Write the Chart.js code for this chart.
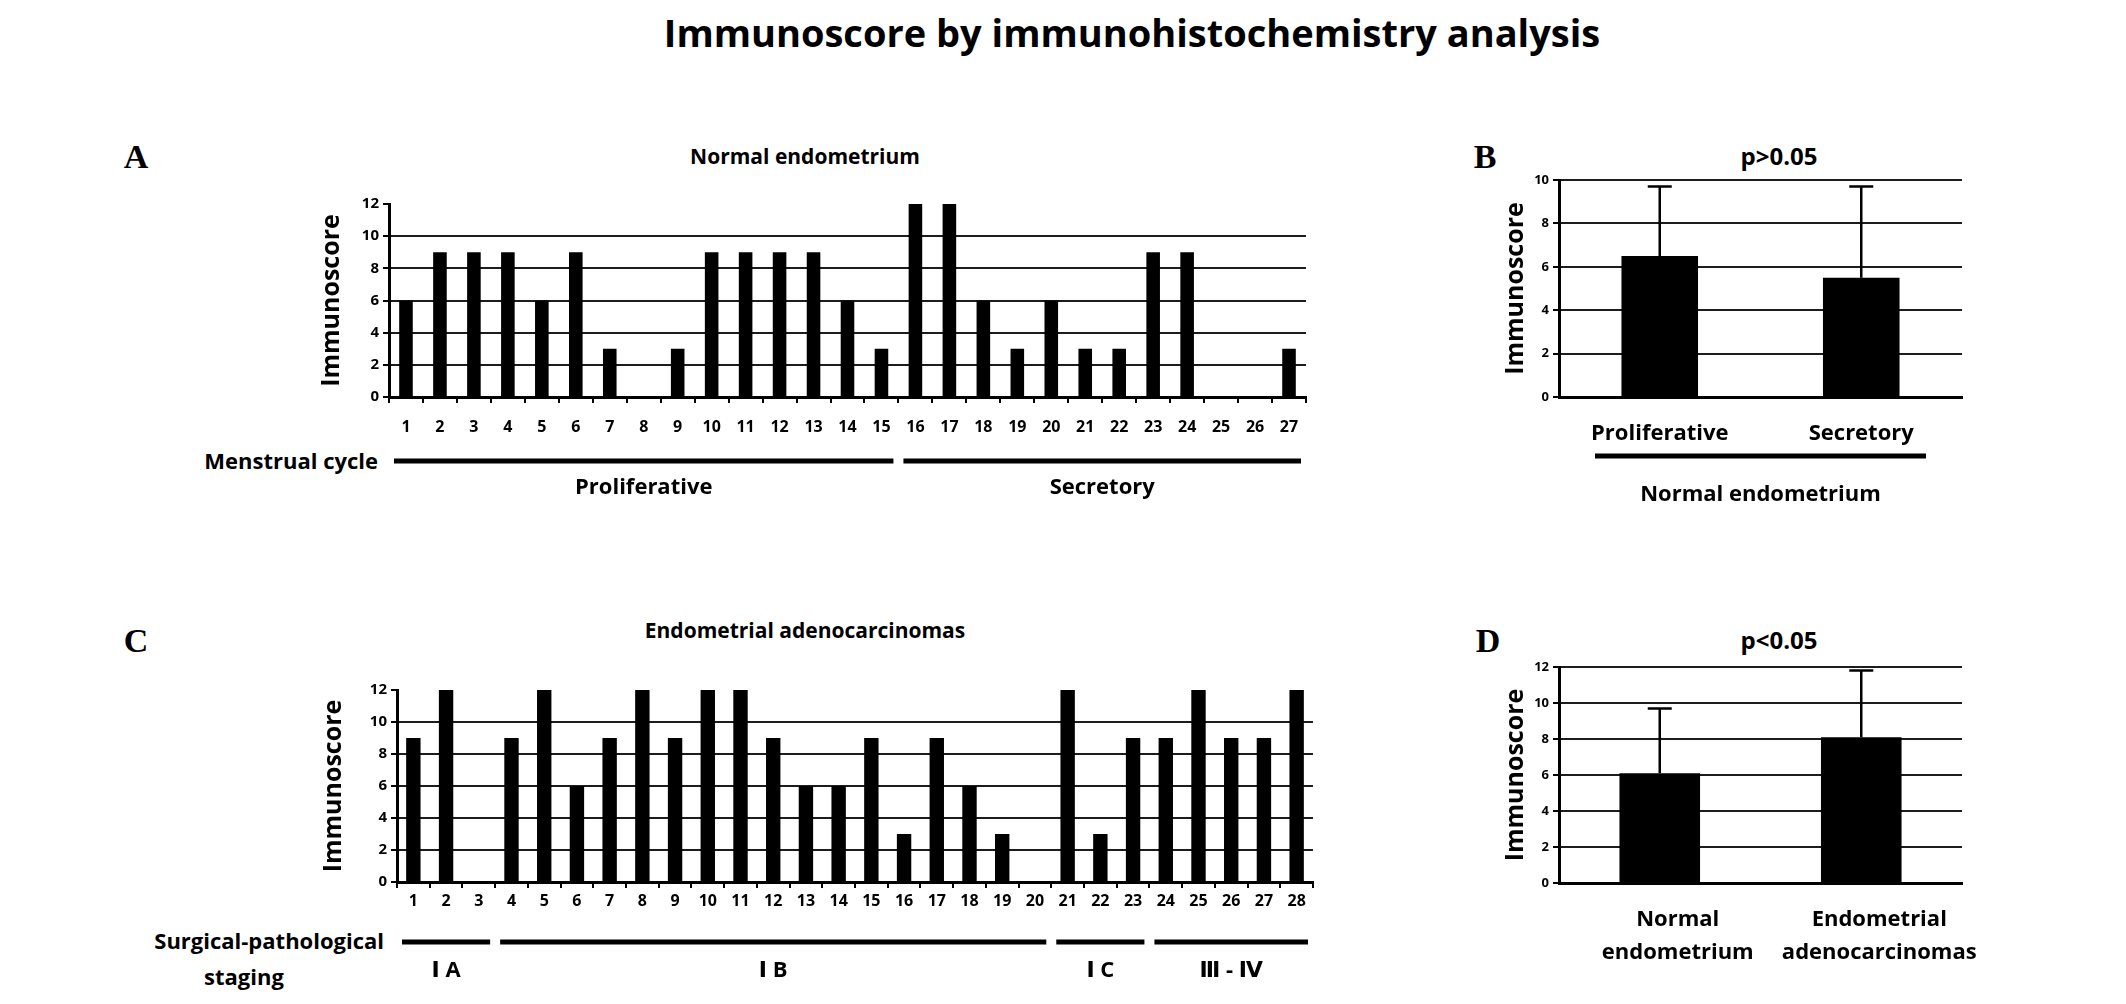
<!DOCTYPE html>
<html><head><meta charset="utf-8">
<script src="https://cdn.jsdelivr.net/npm/chart.js@4.4.1/dist/chart.umd.min.js"></script>
<style>
html,body{margin:0;padding:0;background:#fff;}
#root{position:relative;width:2126px;height:1004px;overflow:hidden;background:#fff;font-family:'Open Sans','Noto Sans',sans-serif;color:#000}
canvas{position:absolute}
.t{position:absolute;white-space:nowrap;font-weight:700;transform:translate(-50%,-50%);line-height:1}
.r{position:absolute;white-space:nowrap;font-weight:700;transform:translate(-100%,-50%);line-height:1}
.L{position:absolute;font-family:'Liberation Serif','DejaVu Serif',serif;font-weight:700;font-size:34px;transform:translate(-50%,-50%);line-height:1}
</style></head>
<body><div id="root">
<div class="t" style="left:1132px;top:32px;font-size:38px">Immunoscore by immunohistochemistry analysis</div>
<div class="L" style="left:136px;top:157px">A</div>
<div class="L" style="left:1485px;top:157px">B</div>
<div class="L" style="left:136px;top:641px">C</div>
<div class="L" style="left:1488px;top:641px">D</div>
<div class="t" style="left:805px;top:156px;font-size:21px">Normal endometrium</div>
<div class="t" style="left:805px;top:630px;font-size:21px">Endometrial adenocarcinomas</div>
<div class="r" style="left:378px;top:460px;font-size:22px">Menstrual cycle</div>
<div class="r" style="left:384px;top:940px;font-size:22px">Surgical-pathological</div>
<div class="t" style="left:244px;top:976px;font-size:22px">staging</div>
<div class="t" style="left:1779px;top:156px;font-size:24px">p&gt;0.05</div>
<div class="t" style="left:1779px;top:640px;font-size:24px">p&lt;0.05</div>
<canvas id="cA" width="1030" height="330" style="left:300px;top:180px;width:1030px;height:330px"></canvas>
<canvas id="cC" width="1040" height="340" style="left:300px;top:660px;width:1040px;height:340px"></canvas>
<canvas id="cB" width="540" height="370" style="left:1460px;top:150px;width:540px;height:370px"></canvas>
<canvas id="cD" width="540" height="364" style="left:1460px;top:640px;width:540px;height:364px"></canvas>
</div>
<script>
// ---- data ----
const aCategories = ['1','2','3','4','5','6','7','8','9','10','11','12','13','14','15','16','17','18','19','20','21','22','23','24','25','26','27'];
const aScores = [6,9,9,9,6,9,3,0,3,9,9,9,9,6,3,12,12,6,3,6,3,3,9,9,0,0,3];
const aGroupNames = ['Proliferative','Secretory'];
const aGroupStarts = [1,16];
const aGroupEnds = [15,27];

const cCategories = ['1','2','3','4','5','6','7','8','9','10','11','12','13','14','15','16','17','18','19','20','21','22','23','24','25','26','27','28'];
const cScores = [9,12,0,9,12,6,9,12,9,12,12,9,6,6,9,3,9,6,3,0,12,3,9,9,12,9,9,12];
const cGroupNames = ['\u2160 A','\u2160 B','\u2160 C','\u2162 - \u2163'];
const cGroupStarts = [1,4,21,24];
const cGroupEnds = [3,20,23,28];

const bCategories = ['Proliferative','Secretory'];
const bMeans = [6.5,5.5];
const bErrors = [3.2,4.2];
const bGroupNames = ['Normal endometrium'];
const bGroupStarts = [1];
const bGroupEnds = [2];

const dCategories = [['Normal','endometrium'],['Endometrial','adenocarcinomas']];
const dMeans = [6.1,8.1];
const dErrors = [3.6,3.7];

const aYMax = 12, cYMax = 12, bYMax = 10, dYMax = 12, yStep = 2;

const FONT = "'Open Sans','Noto Sans','DejaVu Sans','Noto Sans CJK KR',sans-serif";

const errPlugin = {
  id: 'errbars',
  afterDatasetsDraw(chart, args, opts) {
    if (!opts || !opts.errors) return;
    const ctx = chart.ctx, ys = chart.scales.y;
    const ds = chart.data.datasets[0];
    chart.getDatasetMeta(0).data.forEach((bar, i) => {
      const v = ds.data[i], e = opts.errors[i];
      const y0 = ys.getPixelForValue(v), y1 = ys.getPixelForValue(v + e);
      ctx.save();
      ctx.strokeStyle = '#000'; ctx.lineWidth = 2.5;
      ctx.beginPath();
      ctx.moveTo(bar.x, y0); ctx.lineTo(bar.x, y1);
      ctx.moveTo(bar.x - 12, y1); ctx.lineTo(bar.x + 12, y1);
      ctx.stroke();
      ctx.restore();
    });
  }
};

const groupPlugin = {
  id: 'groups',
  afterDraw(chart, args, o) {
    if (!o || !o.names) return;
    const ctx = chart.ctx, xs = chart.scales.x, ca = chart.chartArea;
    const n = chart.data.labels.length;
    const w = xs.width / n;
    ctx.save();
    o.names.forEach((name, i) => {
      const l = xs.getPixelForTick(o.starts[i] - 1) - w / 2 + o.inset;
      const r = xs.getPixelForTick(o.ends[i] - 1) + w / 2 - o.inset;
      const y = ca.bottom + o.lineDy;
      ctx.fillStyle = '#000';
      ctx.fillRect(l, y - o.thick / 2, r - l, o.thick);
      ctx.font = 'bold ' + o.size + 'px ' + FONT;
      ctx.textAlign = 'center'; ctx.textBaseline = 'middle';
      ctx.fillText(name, (l + r) / 2, ca.bottom + o.labelDy);
    });
    ctx.restore();
  }
};

function makeChart(id, cfg) {
  const gridColor = (max, showTop) => (c) => (c.tick && c.tick.value === max && !showTop) ? 'rgba(0,0,0,0)' : '#1c1c1c';
  return new Chart(document.getElementById(id), {
    type: 'bar',
    data: { labels: cfg.labels, datasets: [{ data: cfg.values, backgroundColor: '#000', borderWidth: 0,
      barPercentage: cfg.barPct, categoryPercentage: 1 }] },
    plugins: [errPlugin, groupPlugin],
    options: {
      responsive: false, animation: false,
      layout: { padding: { top: cfg.padTop, right: cfg.padRight, left: 0, bottom: 0 } },
      plugins: { legend: { display: false }, tooltip: { enabled: false }, title: { display: false },
        errbars: { errors: cfg.errors }, groups: cfg.groups },
      scales: {
        x: {
          type: 'category', offset: true,
          afterFit: s => { s.height = cfg.xH; },
          grid: cfg.xTicks ? { offset: true, drawOnChartArea: false, tickLength: 6, color: '#000', lineWidth: 2 } : { display: false },
          border: { color: '#000', width: 3 },
          ticks: { autoSkip: false, maxRotation: 0, minRotation: 0, color: '#000', padding: cfg.xPad, labelOffset: cfg.xOff || 0,
            font: { family: FONT, size: cfg.xFont, weight: 'bold', lineHeight: cfg.xLH || 1.2 } }
        },
        y: {
          min: 0, max: cfg.yMax,
          afterFit: s => { s.width = cfg.yW; },
          grid: { color: gridColor(cfg.yMax, cfg.showTop), lineWidth: 2, tickLength: 6, tickColor: '#000' },
          border: { color: '#000', width: 3 },
          ticks: { stepSize: yStep, color: '#000', padding: 4, font: { family: FONT, size: cfg.yFont, weight: 'bold' } },
          title: { display: true, text: 'Immunoscore', color: '#000', padding: { top: cfg.titlePad, bottom: 0 },
            font: { family: FONT, size: 25, weight: 'bold', lineHeight: 1.2 } }
        }
      }
    }
  });
}

makeChart('cA', { labels: aCategories, values: aScores, barPct: 0.4, padTop: 24, padRight: 24, xH: 113, yW: 89,
  xTicks: true, xPad: 15, xFont: 16, yFont: 15, yMax: aYMax, showTop: false, titlePad: 17,
  groups: { names: aGroupNames, starts: aGroupStarts, ends: aGroupEnds, inset: 5, lineDy: 64, labelDy: 91, thick: 5, size: 22 } });

makeChart('cC', { labels: cCategories, values: cScores, barPct: 0.44, padTop: 30, padRight: 27, xH: 118, yW: 97,
  xTicks: true, xPad: 4, xFont: 16, yFont: 15, yMax: cYMax, showTop: false, titlePad: 19,
  groups: { names: cGroupNames, starts: cGroupStarts, ends: cGroupEnds, inset: 5, lineDy: 60, labelDy: 89, thick: 5, size: 22 } });

makeChart('cB', { labels: bCategories, values: bMeans, errors: bErrors, barPct: 0.38, padTop: 30, padRight: 38, xH: 123, yW: 99,
  xTicks: false, xPad: 16, xFont: 22, yFont: 13, yMax: bYMax, showTop: true, titlePad: 41,
  groups: { names: bGroupNames, starts: bGroupStarts, ends: bGroupEnds, inset: 36, lineDy: 59, labelDy: 98, thick: 5, size: 22 } });

makeChart('cD', { labels: dCategories, values: dMeans, errors: dErrors, barPct: 0.4, padTop: 27, padRight: 38, xH: 121, yW: 99,
  xTicks: false, xPad: 12, xOff: 18, xFont: 22, xLH: 1.5, yFont: 13, yMax: dYMax, showTop: true, titlePad: 41 });
</script>
</body></html>
